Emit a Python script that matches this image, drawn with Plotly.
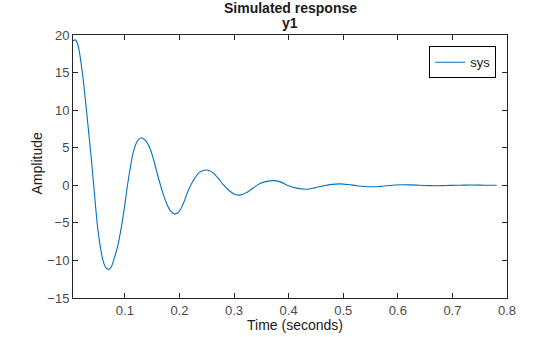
import plotly.graph_objects as go

# Values
time_s = [0.005, 0.0094, 0.0135, 0.0173, 0.0233, 0.0296, 0.0338, 0.039, 0.0445,
          0.050, 0.0555, 0.061, 0.0655, 0.0705, 0.0755, 0.081, 0.0865, 0.093,
          0.0985, 0.104, 0.109, 0.1155, 0.123, 0.1300, 0.1381, 0.1458, 0.1534,
          0.161, 0.1686, 0.1763, 0.1839, 0.1915, 0.199, 0.2067, 0.215, 0.2251,
          0.2373, 0.2500, 0.260, 0.2709, 0.280, 0.2892, 0.300, 0.3107, 0.322,
          0.3351, 0.3475, 0.3597, 0.3749, 0.386, 0.3963, 0.4147, 0.433, 0.448,
          0.4635, 0.479, 0.4941, 0.509, 0.5247, 0.540, 0.554, 0.568, 0.580,
          0.595, 0.610, 0.625, 0.640, 0.656, 0.672, 0.688, 0.705, 0.720,
          0.735, 0.760, 0.781]
amplitude = [19.2, 19.35, 18.8, 17.5, 14.3, 10.0, 7.0, 3.2, -1.3,
             -5.5, -8.4, -10.3, -11.0, -11.2, -10.8, -9.6, -8.2, -5.8,
             -3.3, -0.4, 1.9, 4.4, 5.9, 6.33, 5.95, 4.95, 3.2,
             1.1, -0.8, -2.4, -3.45, -3.84, -3.5, -2.5, -0.9, 0.6,
             1.75, 2.04, 1.75, 0.94, 0.1, -0.6, -1.15, -1.31, -1.0,
             -0.35, 0.25, 0.52, 0.62, 0.42, 0.05, -0.38, -0.52, -0.34,
             -0.08, 0.12, 0.19, 0.1, -0.06, -0.17, -0.2, -0.14, -0.06,
             0.04, 0.08, 0.05, 0.0, -0.04, -0.06, -0.03, 0.0, 0.02,
             0.03, 0.01, 0.0]
x_ticks = [0.1, 0.2, 0.3, 0.4, 0.5, 0.6, 0.7, 0.8]
y_ticks = [-15, -10, -5, 0, 5, 10, 15, 20]

axis_col = "#262626"
font_fam = "Liberation Sans, Arial, Helvetica, sans-serif"

fig = go.Figure()
fig.add_trace(go.Scatter(
    x=time_s, y=amplitude, mode="lines", name="sys",
    line=dict(color="#0072BD", width=1.1, shape="spline", smoothing=1.0),
))

fig.update_layout(
    width=560, height=337,
    margin=dict(l=73, r=53, t=35, b=39),
    paper_bgcolor="white", plot_bgcolor="white",
    font=dict(family=font_fam, color=axis_col, size=13),
    showlegend=True,
    legend=dict(
        x=0.975, y=0.957, xanchor="right", yanchor="top",
        bordercolor="#000000", borderwidth=1, bgcolor="white",
        font=dict(size=13, color="#1a1a1a"),
        itemwidth=30, tracegroupgap=0,
    ),
    xaxis=dict(
        range=[0.005, 0.8], tickvals=x_ticks,
        ticktext=[f"{v:g}" for v in x_ticks],
        showgrid=False, zeroline=False,
        showline=True, linecolor=axis_col, linewidth=1, mirror="ticks",
        ticks="inside", ticklen=5, tickcolor=axis_col,
        tickfont=dict(size=13, color="#4a4a4a"),
    ),
    yaxis=dict(
        range=[-15, 20], tickvals=y_ticks,
        showgrid=False, zeroline=False,
        showline=True, linecolor=axis_col, linewidth=1, mirror="ticks",
        ticks="inside", ticklen=5, tickcolor=axis_col,
        tickfont=dict(size=13, color="#4a4a4a"),
    ),
    annotations=[
        dict(text="<b>Simulated response</b>", xref="paper", yref="paper",
             x=0.5, y=1, yshift=27, showarrow=False, xanchor="center",
             yanchor="middle", font=dict(size=14, color="#1a1a1a")),
        dict(text="<b>y1</b>", xref="paper", yref="paper",
             x=0.5, y=1, yshift=12, showarrow=False, xanchor="center",
             yanchor="middle", font=dict(size=14, color="#1a1a1a")),
        dict(text="Time (seconds)", xref="paper", yref="paper",
             x=0.0, xshift=222, y=0, yshift=-27, showarrow=False,
             xanchor="center", yanchor="middle",
             font=dict(size=14, color="#1a1a1a")),
        dict(text="Amplitude", xref="paper", yref="paper",
             x=0, xshift=-37, y=0.5, yshift=3, showarrow=False, textangle=-90,
             xanchor="center", yanchor="middle",
             font=dict(size=14, color="#1a1a1a")),
    ],
)

fig.write_html("out.html")
